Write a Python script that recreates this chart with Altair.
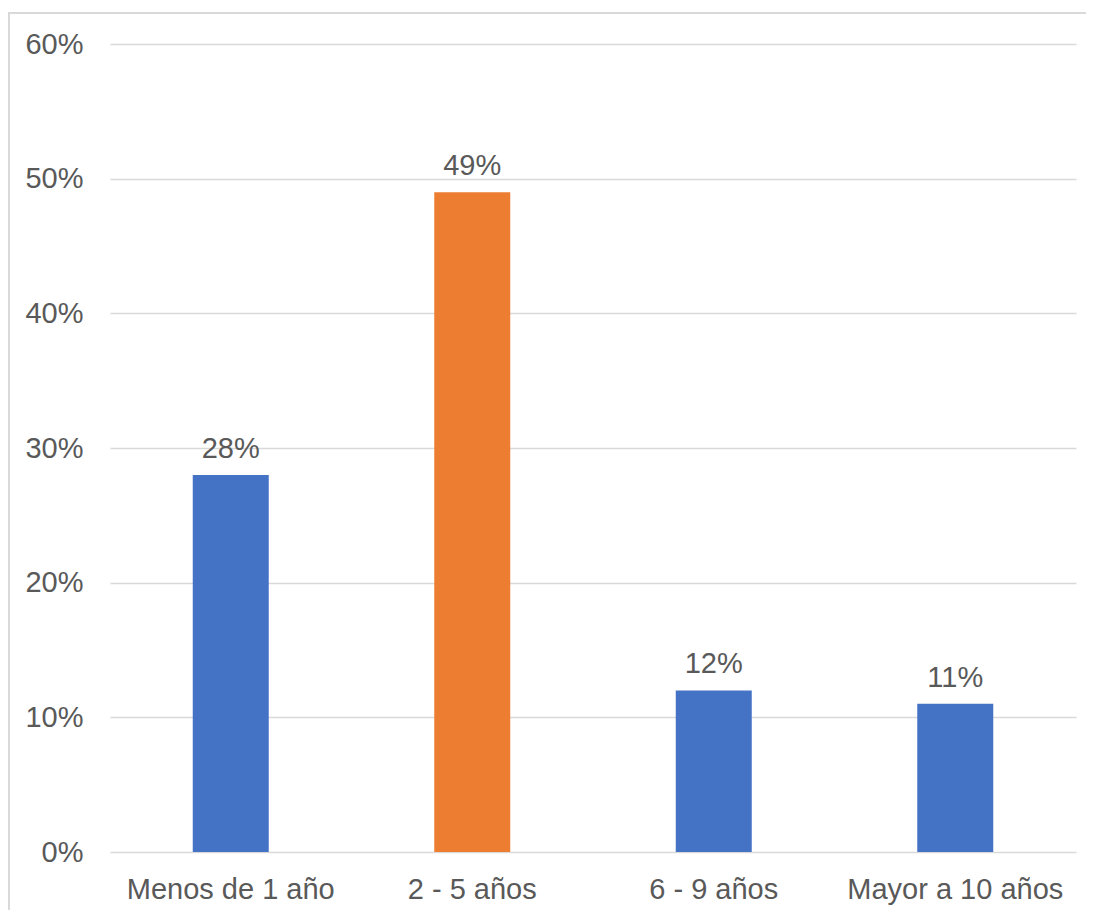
import altair as alt
import pandas as pd

categories = ["Menos de 1 año", "2 - 5 años", "6 - 9 años", "Mayor a 10 años"]
values = [0.28, 0.49, 0.12, 0.11]
colors = ["#4472C4", "#ED7D31", "#4472C4", "#4472C4"]

df = pd.DataFrame({"cat": categories, "val": values, "col": colors})

FONT = "Liberation Sans"
TXT = "#595959"
GRID = "#D9D9D9"
FS = 29

x_enc = alt.X("cat:N", sort=categories, title=None,
              scale=alt.Scale(paddingInner=0, paddingOuter=0),
              axis=alt.Axis(labelAngle=0, domain=False, ticks=False, grid=False,
                            labelPadding=23, labelLimit=0,
                            labelFontSize=FS, labelColor=TXT, labelFont=FONT))
y_enc = alt.Y("val:Q", title=None,
              scale=alt.Scale(domain=[0, 0.6], nice=False),
              axis=alt.Axis(values=[0, 0.1, 0.2, 0.3, 0.4, 0.5, 0.6], format=".0%",
                            domain=False, ticks=False, labelPadding=27,
                            labelFontSize=FS, labelColor=TXT, labelFont=FONT,
                            grid=True, gridColor=GRID, gridWidth=1.3))

bars = alt.Chart(df).mark_bar(size=76).encode(
    x=x_enc, y=y_enc, color=alt.Color("col:N", scale=None)
)
labels = alt.Chart(df).mark_text(dy=-17, baseline="alphabetic", fontSize=FS,
                                 font=FONT, color=TXT).encode(
    x=alt.X("cat:N", sort=categories), y="val:Q",
    text=alt.Text("val:Q", format=".0%")
)
frame_left = alt.Chart(df).mark_rule(color=GRID, strokeWidth=2).encode(
    x=alt.value(-101), y=alt.value(-31), y2=alt.value(900)
)
frame_top = alt.Chart(df).mark_rule(color=GRID, strokeWidth=2).encode(
    x=alt.value(-102), x2=alt.value(1000), y=alt.value(-31)
)

chart = alt.layer(frame_left, frame_top, bars, labels).properties(
    width=966, height=808,
    autosize=alt.AutoSizeParams(type="none"),
    padding={"left": 102, "top": 36, "right": 10, "bottom": 58},
).configure(background="white").configure_view(stroke=None, strokeWidth=0)

chart.save("out.html", embed_options={"renderer": "svg", "actions": False})
